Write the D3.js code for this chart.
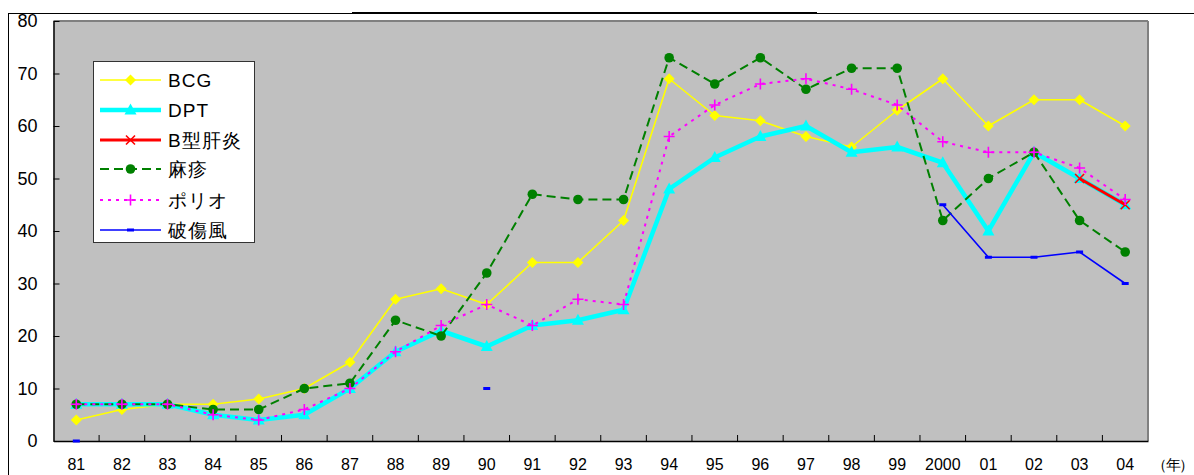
<!DOCTYPE html>
<html><head><meta charset="utf-8">
<script src="https://cdn.jsdelivr.net/npm/d3@7/dist/d3.min.js"></script>
<style>body{margin:0;background:#fff;}svg{display:block;font-family:"Liberation Sans",Arial,sans-serif;}</style>
</head><body><svg id="c" width="1194" height="475"></svg>
<script>
const years = ["81","82","83","84","85","86","87","88","89","90","91","92","93","94","95","96","97","98","99","2000","01","02","03","04"];
const yTicks = [0,10,20,30,40,50,60,70,80];
const bcg   = [4,6,7,7,8,10,15,27,29,26,34,34,42,69,62,61,58,56,63,69,60,65,65,60];
const dpt   = [7,7,7,5,4,5,10,17,21,18,22,23,25,48,54,58,60,55,56,53,40,55,50,45];
const hepB  = [null,null,null,null,null,null,null,null,null,null,null,null,null,null,null,null,null,null,null,null,null,null,50,45];
const measles = [7,7,7,6,6,10,11,23,20,32,47,46,46,73,68,73,67,71,71,42,50,55,42,36];
const polio = [7,7,7,5,4,6,10,17,22,26,22,27,26,58,64,68,69,67,64,57,55,55,52,46];
const tetanus = [0,null,null,null,null,null,null,null,null,10,null,null,null,null,null,null,null,null,null,45,35,35,36,30];
const seriesNames = ["BCG","DPT","B型肝炎","麻疹","ポリオ","破傷風"];

const series = [
  {name:seriesNames[0], data:bcg, color:"#FFFF00", width:1.6, dash:null, marker:"diamond"},
  {name:seriesNames[1], data:dpt, color:"#00FFFF", width:4.5, dash:null, marker:"triangle"},
  {name:seriesNames[2], data:hepB, color:"#FF0000", width:3, dash:null, marker:"x"},
  {name:seriesNames[3], data:measles, color:"#008000", width:2, dash:"9,5", marker:"circle"},
  {name:seriesNames[4], data:polio, color:"#FF00FF", width:2, dash:"3,5", marker:"plus"},
  {name:seriesNames[5], data:tetanus, color:"#0000FF", width:1.6, dash:null, marker:"dash"}
];

const svg = d3.select("#c");
const L = 53.5, R = 1148, T = 21, B = 441;
const x = d3.scaleBand().domain(years).range([L, R]).padding(0);
const y = d3.scaleLinear().domain([0, 80]).range([B, T]);
const cx = d => x(d) + x.bandwidth()/2;

// outer frame
svg.append("line").attr("x1",8.5).attr("x2",8.5).attr("y1",13).attr("y2",475).attr("stroke","#000").attr("stroke-width",1);
svg.append("line").attr("x1",8).attr("x2",1194).attr("y1",13.5).attr("y2",13.5).attr("stroke","#000").attr("stroke-width",1);
svg.append("line").attr("x1",352).attr("x2",817).attr("y1",13).attr("y2",13).attr("stroke","#000").attr("stroke-width",2);

// plot area
svg.append("rect").attr("x",L).attr("y",T).attr("width",R-L).attr("height",B-T).attr("fill","#C0C0C0");
svg.append("line").attr("x1",L).attr("x2",R).attr("y1",T).attr("y2",T).attr("stroke","#808080").attr("stroke-width",2);
svg.append("line").attr("x1",R).attr("x2",R).attr("y1",T).attr("y2",B).attr("stroke","#808080").attr("stroke-width",2);

// axes
const yAxis = d3.axisLeft(y).tickValues(yTicks).tickSizeInner(-6).tickSizeOuter(0).tickPadding(16);
const gy = svg.append("g").attr("transform",`translate(${L},0)`).call(yAxis);
gy.select(".domain").attr("stroke","#000").attr("stroke-width",1.5);
gy.selectAll(".tick line").attr("stroke","#000");
gy.selectAll("text").attr("font-size",18).attr("fill","#000");

const xAxis = d3.axisBottom(x).tickSize(0).tickPadding(18);
const gx = svg.append("g").attr("transform",`translate(0,${B})`).call(xAxis);
gx.select(".domain").attr("stroke","#000").attr("stroke-width",1.5);
gx.selectAll("text").attr("font-size",16).attr("fill","#000");
// boundary ticks (inside)
gx.selectAll(".bt").data(years.slice(1)).enter().append("line")
  .attr("x1",d=>x(d)).attr("x2",d=>x(d)).attr("y1",0).attr("y2",-6).attr("stroke","#000");
svg.append("text").attr("x",1152).attr("y",470).attr("font-size",15)
  .attr("letter-spacing",-1.5).text("（年）");

function drawMarker(g, type, color, px, py){
  if(type==="diamond"){
    g.append("path").attr("d",`M${px},${py-5.5}L${px+5.5},${py}L${px},${py+5.5}L${px-5.5},${py}Z`).attr("fill",color);
  } else if(type==="triangle"){
    g.append("path").attr("d",`M${px},${py-6.5}L${px+6},${py+4.5}L${px-6},${py+4.5}Z`).attr("fill",color);
  } else if(type==="circle"){
    g.append("circle").attr("cx",px).attr("cy",py).attr("r",4.8).attr("fill",color);
  } else if(type==="x"){
    g.append("path").attr("d",`M${px-4.5},${py-4.5}L${px+4.5},${py+4.5}M${px-4.5},${py+4.5}L${px+4.5},${py-4.5}`).attr("stroke",color).attr("stroke-width",1.6);
  } else if(type==="plus"){
    g.append("path").attr("d",`M${px-5.5},${py}L${px+5.5},${py}M${px},${py-5.5}L${px},${py+5.5}`).attr("stroke",color).attr("stroke-width",1.6);
  } else if(type==="dash"){
    g.append("rect").attr("x",px-3.5).attr("y",py-1.5).attr("width",7).attr("height",3).attr("fill",color);
  }
}

const line = d3.line().defined(d=>d.v!=null).x(d=>cx(d.k)).y(d=>y(d.v));
series.forEach(s=>{
  const pts = years.map((k,i)=>({k, v:s.data[i]}));
  const g = svg.append("g");
  g.append("path").datum(pts).attr("d",line).attr("fill","none")
    .attr("stroke",s.color).attr("stroke-width",s.width)
    .attr("stroke-dasharray",s.dash).attr("stroke-linejoin","round");
  pts.filter(p=>p.v!=null).forEach(p=>drawMarker(g, s.marker, s.color, cx(p.k), y(p.v)));
});

// legend
const lg = svg.append("g");
lg.append("rect").attr("x",93.5).attr("y",61.5).attr("width",161).attr("height",181).attr("fill","#fff").attr("stroke","#333").attr("stroke-width",1);
const rowY = [80,110,140,169,200,230];
series.forEach((s,i)=>{
  const yy = rowY[i];
  lg.append("line").attr("x1",100).attr("x2",161).attr("y1",yy).attr("y2",yy)
    .attr("stroke",s.color).attr("stroke-width",s.width).attr("stroke-dasharray",s.dash);
  drawMarker(lg, s.marker, s.color, 130.5, yy);
  lg.append("text").attr("x",168).attr("y",yy+7).attr("font-size",19).attr("letter-spacing",1).text(s.name);
});
</script></body></html>
